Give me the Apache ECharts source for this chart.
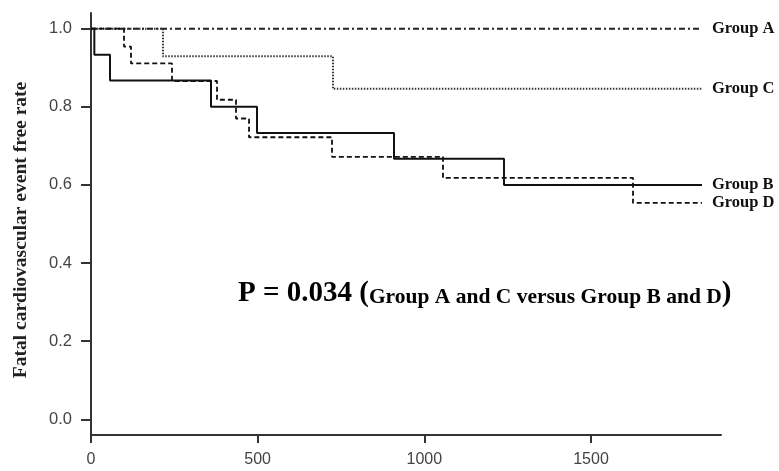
<!DOCTYPE html>
<html>
<head>
<meta charset="utf-8">
<script src="https://cdn.jsdelivr.net/npm/echarts@6/dist/echarts.min.js"></script>
<style>html,body{margin:0;padding:0;background:#fff;}#c{width:779px;height:471px;}</style>
</head>
<body>
<div id="c"></div>
<script>
// ---- data (days, event-free rate) ----
const groupATimes = [0, 1833];
const groupARates = [1.0, 1.0];
const groupCTimes = [0, 216, 726, 1833];
const groupCRates = [1.0, 0.929, 0.846, 0.846];
const groupBTimes = [0, 10, 57, 360, 498, 909, 1239, 1833];
const groupBRates = [1.0, 0.933, 0.867, 0.800, 0.733, 0.667, 0.600, 0.600];
const groupDTimes = [0, 99, 120, 243, 378, 435, 474, 723, 1056, 1626, 1833];
const groupDRates = [1.0, 0.954, 0.911, 0.866, 0.818, 0.770, 0.722, 0.672, 0.618, 0.554, 0.554];
const xTicks = [0, 500, 1000, 1500];
const yTicks = [0, 0.2, 0.4, 0.6, 0.8, 1.0];
const yTitle = 'Fatal cardiovascular event free rate';
const pText = 'P = 0.034';
const pNote = 'Group A and C versus Group B and D';

function pairs(t, v) { return t.map((x, i) => [x, v[i]]); }

const serif = '"Liberation Serif", "Times New Roman", serif';
const sans = '"Liberation Sans", Arial, sans-serif';

function kmSeries(name, t, v, lineStyle) {
  return {
    name: name,
    type: 'line',
    step: 'end',
    data: pairs(t, v),
    symbol: 'none',
    lineStyle: lineStyle,
    silent: true,
    endLabel: {
      show: true,
      formatter: name,
      distance: 10,
      color: '#111',
      fontFamily: serif,
      fontWeight: 'bold',
      fontSize: 16.5
    }
  };
}

const chart = echarts.init(document.getElementById('c'), null, {renderer: 'canvas'});
chart.setOption({
  animation: false,
  backgroundColor: '#fff',
  grid: {left: 91, right: 58, top: 13, bottom: 36, containLabel: false, outerBoundsMode: 'none'},
  xAxis: {
    type: 'value', min: 0, max: 1890,
    axisLine: {show: true, onZero: false, lineStyle: {color: '#333', width: 2}},
    axisTick: {show: true, length: 8, customValues: xTicks, lineStyle: {color: '#333', width: 2}},
    axisLabel: {customValues: xTicks, margin: 17, color: '#444', fontFamily: sans, fontSize: 16,
      formatter: v => String(v)},
    splitLine: {show: false}
  },
  yAxis: {
    type: 'value', min: -0.04, max: 1.04,
    axisLine: {show: true, onZero: false, lineStyle: {color: '#333', width: 2}},
    axisTick: {show: true, length: 10, customValues: yTicks, lineStyle: {color: '#333', width: 2}},
    axisLabel: {customValues: yTicks, margin: 19, color: '#444', fontFamily: sans, fontSize: 16.5,
      formatter: v => v.toFixed(1)},
    splitLine: {show: false}
  },
  series: [
    kmSeries('Group A', groupATimes, groupARates, {color: '#222', width: 2, type: [6, 3, 2, 3]}),
    kmSeries('Group C', groupCTimes, groupCRates, {color: '#333', width: 2, type: [1.5, 1.5]}),
    kmSeries('Group B', groupBTimes, groupBRates, {color: '#111', width: 2, type: 'solid'}),
    kmSeries('Group D', groupDTimes, groupDRates, {color: '#111', width: 1.8, type: [5, 3]})
  ],
  graphic: [{
    type: 'text',
    x: 21,
    y: 230,
    rotation: Math.PI / 2,
    silent: true,
    style: {
      text: yTitle,
      fontFamily: serif, fontWeight: 'bold', fontSize: 19.5, fill: '#222',
      align: 'center', verticalAlign: 'middle'
    }
  }, {
    type: 'text',
    left: 238,
    top: 279,
    silent: true,
    style: {
      text: '{p|' + pText + ' }{paren|(}{s|' + pNote + '}{paren|)}',
      rich: {
        p: {fontFamily: serif, fontWeight: 'bold', fontSize: 29, color: '#111', verticalAlign: 'bottom', lineHeight: 32},
        paren: {fontFamily: serif, fontWeight: 'bold', fontSize: 29, color: '#111', verticalAlign: 'bottom', lineHeight: 32},
        s: {fontFamily: serif, fontWeight: 'bold', fontSize: 21.5, color: '#111', verticalAlign: 'bottom', lineHeight: 26}
      }
    }
  }]
});
</script>
</body>
</html>
